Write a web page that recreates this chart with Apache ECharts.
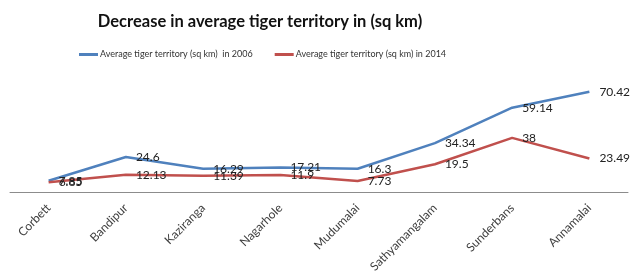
<!DOCTYPE html>
<html>
<head>
<meta charset="utf-8">
<script src="https://cdn.jsdelivr.net/npm/echarts@6/dist/echarts.min.js"></script>
<style>
  html, body { margin: 0; padding: 0; background: #fff; }
  #chart { width: 640px; height: 275px; }
</style>
</head>
<body>
<div id="chart"></div>
<script>
// reserves, left to right
const parks = ['Corbett', 'Bandipur', 'Kaziranga', 'Nagarhole', 'Mudumalai', 'Sathyamangalam', 'Sunderbans', 'Annamalai'];
const territory2006 = [7.85, 24.6, 16.29, 17.21, 16.3, 34.34, 59.14, 70.42];
const territory2014 = [6.85, 12.13, 11.39, 11.9, 7.73, 19.5, 38, 23.49];
const seriesNames = ['Average tiger territory (sq km)  in 2006', 'Average tiger territory (sq km) in 2014'];

const font = 'Lato, Open Sans, sans-serif';
let chart = echarts.init(document.getElementById('chart'));

let lineSeries = (name, data, color) => ({
    name: name,
    type: 'line',
    data: data,
    symbol: 'circle',
    symbolSize: 0,
    showSymbol: true,
    lineStyle: { color: color, width: 2.5 },
    itemStyle: { color: color },
    label: {
        show: true,
        position: 'right',
        distance: 10,
        color: '#222',
        fontSize: 12,
        fontFamily: font
    },
    emphasis: { disabled: true }
});

chart.setOption({
    animation: false,
    title: {
        text: 'Decrease in average tiger territory in (sq km)',
        left: 255,
        textAlign: 'center',
        top: 8,
        textStyle: { fontSize: 16.5, fontWeight: 'bold', color: '#111', fontFamily: font }
    },
    legend: {
        left: 74,
        top: 45,
        icon: 'rect',
        itemWidth: 19,
        itemHeight: 3,
        itemGap: 22,
        textStyle: { fontSize: 9, color: '#333', fontFamily: font, padding: [0, 0, 0, -3] },
        data: seriesNames
    },
    grid: { left: 10, right: 12, top: 78, bottom: 83, outerBoundsMode: 'none' },
    xAxis: {
        type: 'category',
        data: parks,
        boundaryGap: true,
        axisLine: { lineStyle: { color: '#8c8c8c', width: 1 } },
        axisTick: { show: false },
        axisLabel: { rotate: 45, fontSize: 12, color: '#404040', margin: 14, interval: 0, fontFamily: font }
    },
    yAxis: {
        type: 'value',
        min: 0,
        max: 80,
        show: false
    },
    series: [
        lineSeries(seriesNames[0], territory2006, '#4f81bd'),
        lineSeries(seriesNames[1], territory2014, '#c0504d')
    ]
});
</script>
</body>
</html>
